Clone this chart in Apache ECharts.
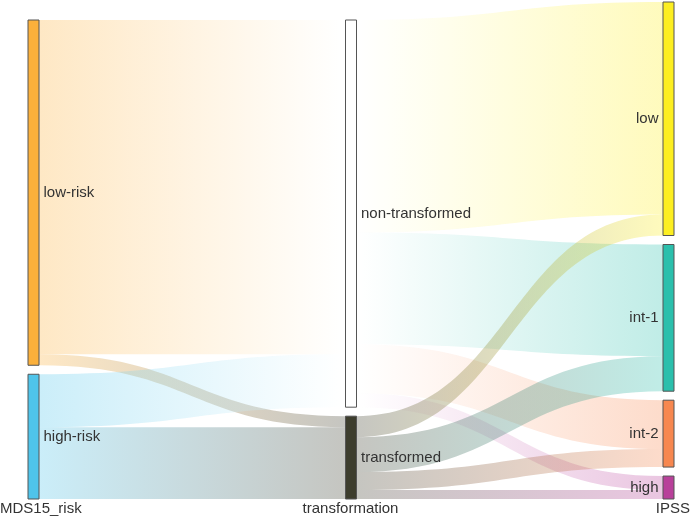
<!DOCTYPE html>
<html>
<head>
<meta charset="utf-8">
<script src="https://cdn.jsdelivr.net/npm/echarts@6/dist/echarts.min.js"></script>
<style>
html,body{margin:0;padding:0;background:#fff;}
#chart{width:692px;height:518px;}
</style>
</head>
<body>
<div id="chart"></div>
<script>
const stageNames = ['MDS15_risk', 'transformation', 'IPSS'];
const riskNodes = ['low-risk', 'high-risk'];
const transNodes = ['non-transformed', 'transformed'];
const ipssNodes = ['low', 'int-1', 'int-2', 'high'];
// rows: riskNodes, cols: transNodes
const riskToTrans = [
  [335, 11],
  [53, 72]
];
// rows: transNodes, cols: ipssNodes
const transToIpss = [
  [213, 112, 49, 14],
  [21, 35, 18, 9]
];
const riskColors = ['#FBB03B', '#4FC4EA'];
const transColors = ['#FFFFFF', '#3D3D2D'];
const ipssColors = ['#FCEE21', '#2BBFAC', '#F7874F', '#B8409A'];

const nodes = [];
riskNodes.forEach((n, i) => nodes.push({name: n, depth: 0, itemStyle: {color: riskColors[i]}}));
transNodes.forEach((n, i) => nodes.push({name: n, depth: 1, itemStyle: {color: transColors[i]}}));
ipssNodes.forEach((n, i) => nodes.push({name: n, depth: 2, itemStyle: {color: ipssColors[i]}, label: {position: 'left'}}));

const links = [];
riskNodes.forEach((s, i) => transNodes.forEach((t, j) => links.push({source: s, target: t, value: riskToTrans[i][j]})));
transNodes.forEach((s, i) => ipssNodes.forEach((t, j) => links.push({source: s, target: t, value: transToIpss[i][j]})));

const chart = echarts.init(document.getElementById('chart'), null, {renderer: 'canvas'});
const font = "'Liberation Sans', Arial, sans-serif";
const txt = '15px ' + font;
chart.setOption({
  animation: false,
  series: [{
    type: 'sankey',
    left: 28, right: 18, top: 2, bottom: 19,
    nodeWidth: 11,
    nodeGap: 9,
    draggable: false,
    layoutIterations: 32,
    emphasis: {disabled: true},
    data: nodes,
    links: links,
    itemStyle: {borderColor: '#555', borderWidth: 1},
    lineStyle: {color: 'gradient', opacity: 0.3, curveness: 0.5},
    label: {fontSize: 15, color: '#333', fontFamily: font, distance: 4}
  }],
  graphic: [
    {type: 'text', x: 0, y: 509, style: {text: stageNames[0], font: txt, fill: '#333', textAlign: 'left', textVerticalAlign: 'middle'}},
    {type: 'text', x: 350.5, y: 509, style: {text: stageNames[1], font: txt, fill: '#333', textAlign: 'center', textVerticalAlign: 'middle'}},
    {type: 'text', x: 690, y: 509, style: {text: stageNames[2], font: txt, fill: '#333', textAlign: 'right', textVerticalAlign: 'middle'}}
  ]
});
</script>
</body>
</html>
